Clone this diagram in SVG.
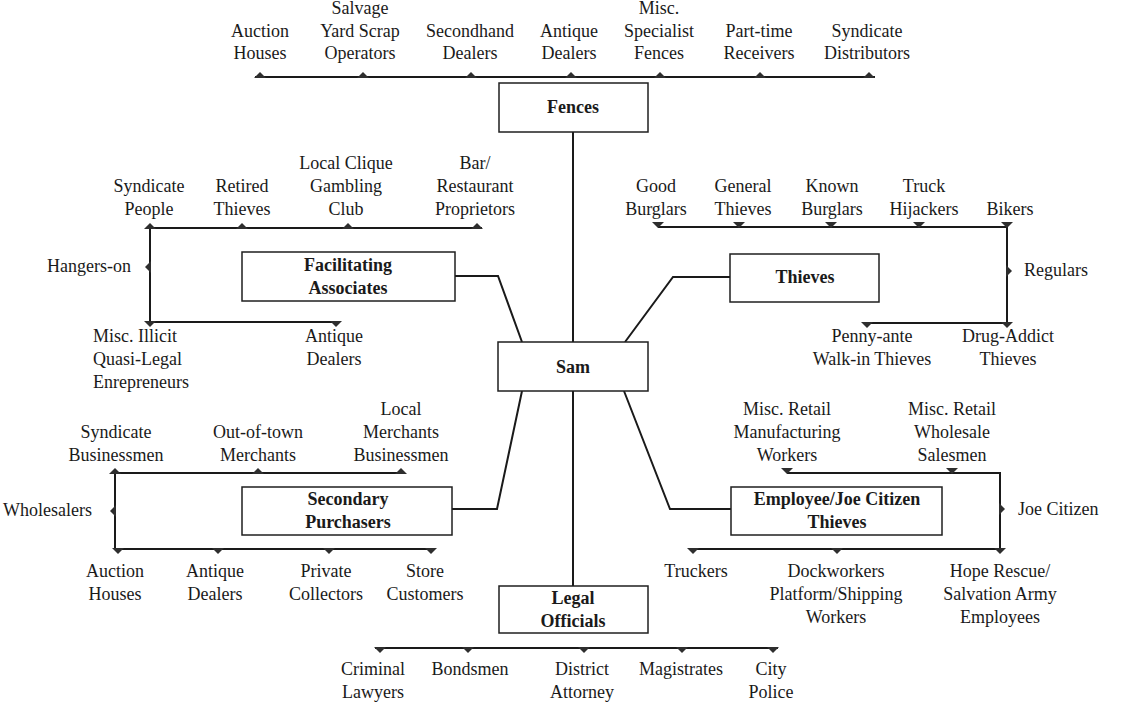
<svg xmlns="http://www.w3.org/2000/svg" xmlns:xlink="http://www.w3.org/1999/xlink" width="1143" height="702" viewBox="0 0 1143 702">
<style>
  text { font-family: "Liberation Serif", "Times New Roman", serif; font-size: 18px; fill: #1a1a1a; }
  .c { text-anchor: middle; }
  .e { text-anchor: end; }
  .b { font-weight: bold; text-anchor: middle; }
  .box { fill: #ffffff; stroke: #1f1f1f; stroke-width: 1.5; }
  .ln { fill: none; stroke: #1a1a1a; stroke-width: 2; }
  .ah { fill: #2e2e2e; }
</style>
<defs>
  <path id="up" class="ah" d="M-6 1 L6 1 L0 -5 Z"/>
  <path id="dnA" class="ah" d="M-6 -5 L6 -5 L0 1 Z"/>
  <path id="dnB" class="ah" d="M-6 -1 L6 -1 L0 5 Z"/>
  <path id="lf" class="ah" d="M1 -6 L1 6 L-5 0 Z"/>
  <path id="rt" class="ah" d="M-1 -6 L-1 6 L5 0 Z"/>
</defs>
<rect width="1143" height="702" fill="#ffffff"/>

<g id="connectors">
  <path class="ln" d="M573 132 V342"/>
  <path class="ln" d="M573 391 V586"/>
  <path class="ln" d="M455 276 H498 L522 342"/>
  <path class="ln" d="M730 277 H673 L625 342"/>
  <path class="ln" d="M452 509 H497 L522 391"/>
  <path class="ln" d="M731 509 H670 L624 391"/>
  <!-- Fences bus -->
  <path class="ln" d="M255 77 H875"/>
  <use xlink:href="#up" x="260" y="77"/><use xlink:href="#up" x="363" y="77"/><use xlink:href="#up" x="471" y="77"/><use xlink:href="#up" x="571" y="77"/><use xlink:href="#up" x="660" y="77"/><use xlink:href="#up" x="760" y="77"/><use xlink:href="#up" x="869" y="77"/>
  <!-- Facilitating bus -->
  <path class="ln" d="M482 228 H150 V322 H338"/>
  <use xlink:href="#up" x="150" y="228"/><use xlink:href="#up" x="242" y="228"/><use xlink:href="#up" x="348" y="228"/><use xlink:href="#up" x="477" y="228"/>
  <use xlink:href="#lf" x="150" y="267"/>
  <use xlink:href="#dnB" x="150" y="322"/><use xlink:href="#dnB" x="336" y="322"/>
  <!-- Thieves bus -->
  <path class="ln" d="M658 227 H1007 V323 H865"/>
  <use xlink:href="#dnA" x="658" y="227"/><use xlink:href="#dnA" x="739" y="227"/><use xlink:href="#dnA" x="831" y="227"/><use xlink:href="#dnA" x="919" y="227"/><use xlink:href="#dnA" x="1007" y="227"/>
  <use xlink:href="#rt" x="1007" y="271"/>
  <use xlink:href="#dnB" x="867" y="323"/><use xlink:href="#dnB" x="1007" y="323"/>
  <!-- Secondary bus -->
  <path class="ln" d="M402 473 H115 V549 H433"/>
  <use xlink:href="#up" x="115" y="473"/><use xlink:href="#up" x="258" y="473"/><use xlink:href="#up" x="401" y="473"/>
  <use xlink:href="#lf" x="115" y="511"/>
  <use xlink:href="#dnB" x="118" y="549"/><use xlink:href="#dnB" x="218" y="549"/><use xlink:href="#dnB" x="329" y="549"/><use xlink:href="#dnB" x="431" y="549"/>
  <!-- Employee bus -->
  <path class="ln" d="M787 473 H1000 V549 H693"/>
  <use xlink:href="#dnA" x="787" y="473"/><use xlink:href="#dnA" x="952" y="473"/>
  <use xlink:href="#rt" x="1000" y="509"/>
  <use xlink:href="#dnB" x="693" y="549"/><use xlink:href="#dnB" x="837" y="549"/><use xlink:href="#dnB" x="1000" y="549"/>
  <!-- Legal bus -->
  <path class="ln" d="M375 648 H778"/>
  <use xlink:href="#dnB" x="380" y="648"/><use xlink:href="#dnB" x="468" y="648"/><use xlink:href="#dnB" x="584" y="648"/><use xlink:href="#dnB" x="682" y="648"/><use xlink:href="#dnB" x="773" y="648"/>
</g>

<g id="node-fences"><rect class="box" x="499" y="83" width="149" height="49"/><text class="b" x="573" y="113">Fences</text></g>
<g id="node-sam"><rect class="box" x="498" y="342" width="150" height="49"/><text class="b" x="573" y="373">Sam</text></g>
<g id="node-facilitating"><rect class="box" x="242" y="252" width="213" height="49"/><text class="b" x="348" y="271">Facilitating</text><text class="b" x="348" y="294">Associates</text></g>
<g id="node-thieves"><rect class="box" x="730" y="254" width="149" height="48"/><text class="b" x="805" y="283">Thieves</text></g>
<g id="node-secondary"><rect class="box" x="242" y="487" width="210" height="48"/><text class="b" x="348" y="505">Secondary</text><text class="b" x="348" y="528">Purchasers</text></g>
<g id="node-employee"><rect class="box" x="731" y="487" width="211" height="48"/><text class="b" x="837" y="505">Employee/Joe Citizen</text><text class="b" x="837" y="528">Thieves</text></g>
<g id="node-legal"><rect class="box" x="499" y="586" width="149" height="47"/><text class="b" x="573" y="604">Legal</text><text class="b" x="573" y="627">Officials</text></g>

<!-- Fences labels -->
<g id="f-auction"><text class="c" x="260" y="37">Auction</text><text class="c" x="260" y="59">Houses</text></g>
<g id="f-salvage"><text class="c" x="360" y="14">Salvage</text><text class="c" x="360" y="37">Yard Scrap</text><text class="c" x="360" y="59">Operators</text></g>
<g id="f-secondhand"><text class="c" x="470" y="37">Secondhand</text><text class="c" x="470" y="59">Dealers</text></g>
<g id="f-antique"><text class="c" x="569" y="37">Antique</text><text class="c" x="569" y="59">Dealers</text></g>
<g id="f-misc"><text class="c" x="659" y="14">Misc.</text><text class="c" x="659" y="37">Specialist</text><text class="c" x="659" y="59">Fences</text></g>
<g id="f-parttime"><text class="c" x="759" y="37">Part-time</text><text class="c" x="759" y="59">Receivers</text></g>
<g id="f-syndicate"><text class="c" x="867" y="37">Syndicate</text><text class="c" x="867" y="59">Distributors</text></g>

<!-- Facilitating labels -->
<g id="a-syndicate"><text class="c" x="149" y="192">Syndicate</text><text class="c" x="149" y="215">People</text></g>
<g id="a-retired"><text class="c" x="242" y="192">Retired</text><text class="c" x="242" y="215">Thieves</text></g>
<g id="a-local"><text class="c" x="346" y="169">Local Clique</text><text class="c" x="346" y="192">Gambling</text><text class="c" x="346" y="215">Club</text></g>
<g id="a-bar"><text class="c" x="475" y="169">Bar/</text><text class="c" x="475" y="192">Restaurant</text><text class="c" x="475" y="215">Proprietors</text></g>
<g id="a-hangers"><text class="e" x="131" y="272">Hangers-on</text></g>
<g id="a-misc"><text x="93" y="342">Misc. Illicit</text><text x="93" y="365">Quasi-Legal</text><text x="93" y="388">Enrepreneurs</text></g>
<g id="a-antique"><text class="c" x="334" y="342">Antique</text><text class="c" x="334" y="365">Dealers</text></g>

<!-- Thieves labels -->
<g id="t-good"><text class="c" x="656" y="192">Good</text><text class="c" x="656" y="215">Burglars</text></g>
<g id="t-general"><text class="c" x="743" y="192">General</text><text class="c" x="743" y="215">Thieves</text></g>
<g id="t-known"><text class="c" x="832" y="192">Known</text><text class="c" x="832" y="215">Burglars</text></g>
<g id="t-truck"><text class="c" x="924" y="192">Truck</text><text class="c" x="924" y="215">Hijackers</text></g>
<g id="t-bikers"><text class="c" x="1010" y="215">Bikers</text></g>
<g id="t-regulars"><text x="1024" y="276">Regulars</text></g>
<g id="t-penny"><text class="c" x="872" y="342">Penny-ante</text><text class="c" x="872" y="365">Walk-in Thieves</text></g>
<g id="t-drug"><text class="c" x="1008" y="342">Drug-Addict</text><text class="c" x="1008" y="365">Thieves</text></g>

<!-- Secondary labels -->
<g id="s-syndicate"><text class="c" x="116" y="438">Syndicate</text><text class="c" x="116" y="461">Businessmen</text></g>
<g id="s-outoftown"><text class="c" x="258" y="438">Out-of-town</text><text class="c" x="258" y="461">Merchants</text></g>
<g id="s-local"><text class="c" x="401" y="415">Local</text><text class="c" x="401" y="438">Merchants</text><text class="c" x="401" y="461">Businessmen</text></g>
<g id="s-wholesalers"><text class="e" x="92" y="516">Wholesalers</text></g>
<g id="s-auction"><text class="c" x="115" y="577">Auction</text><text class="c" x="115" y="600">Houses</text></g>
<g id="s-antique"><text class="c" x="215" y="577">Antique</text><text class="c" x="215" y="600">Dealers</text></g>
<g id="s-private"><text class="c" x="326" y="577">Private</text><text class="c" x="326" y="600">Collectors</text></g>
<g id="s-store"><text class="c" x="425" y="577">Store</text><text class="c" x="425" y="600">Customers</text></g>

<!-- Employee labels -->
<g id="e-manuf"><text class="c" x="787" y="415">Misc. Retail</text><text class="c" x="787" y="438">Manufacturing</text><text class="c" x="787" y="461">Workers</text></g>
<g id="e-wholesale"><text class="c" x="952" y="415">Misc. Retail</text><text class="c" x="952" y="438">Wholesale</text><text class="c" x="952" y="461">Salesmen</text></g>
<g id="e-joe"><text x="1018" y="515">Joe Citizen</text></g>
<g id="e-truckers"><text class="c" x="696" y="577">Truckers</text></g>
<g id="e-dock"><text class="c" x="836" y="577">Dockworkers</text><text class="c" x="836" y="600">Platform/Shipping</text><text class="c" x="836" y="623">Workers</text></g>
<g id="e-hope"><text class="c" x="1000" y="577">Hope Rescue/</text><text class="c" x="1000" y="600">Salvation Army</text><text class="c" x="1000" y="623">Employees</text></g>

<!-- Legal labels -->
<g id="l-criminal"><text class="c" x="373" y="675">Criminal</text><text class="c" x="373" y="698">Lawyers</text></g>
<g id="l-bondsmen"><text class="c" x="470" y="675">Bondsmen</text></g>
<g id="l-district"><text class="c" x="582" y="675">District</text><text class="c" x="582" y="698">Attorney</text></g>
<g id="l-magistrates"><text class="c" x="681" y="675">Magistrates</text></g>
<g id="l-city"><text class="c" x="771" y="675">City</text><text class="c" x="771" y="698">Police</text></g>
</svg>
